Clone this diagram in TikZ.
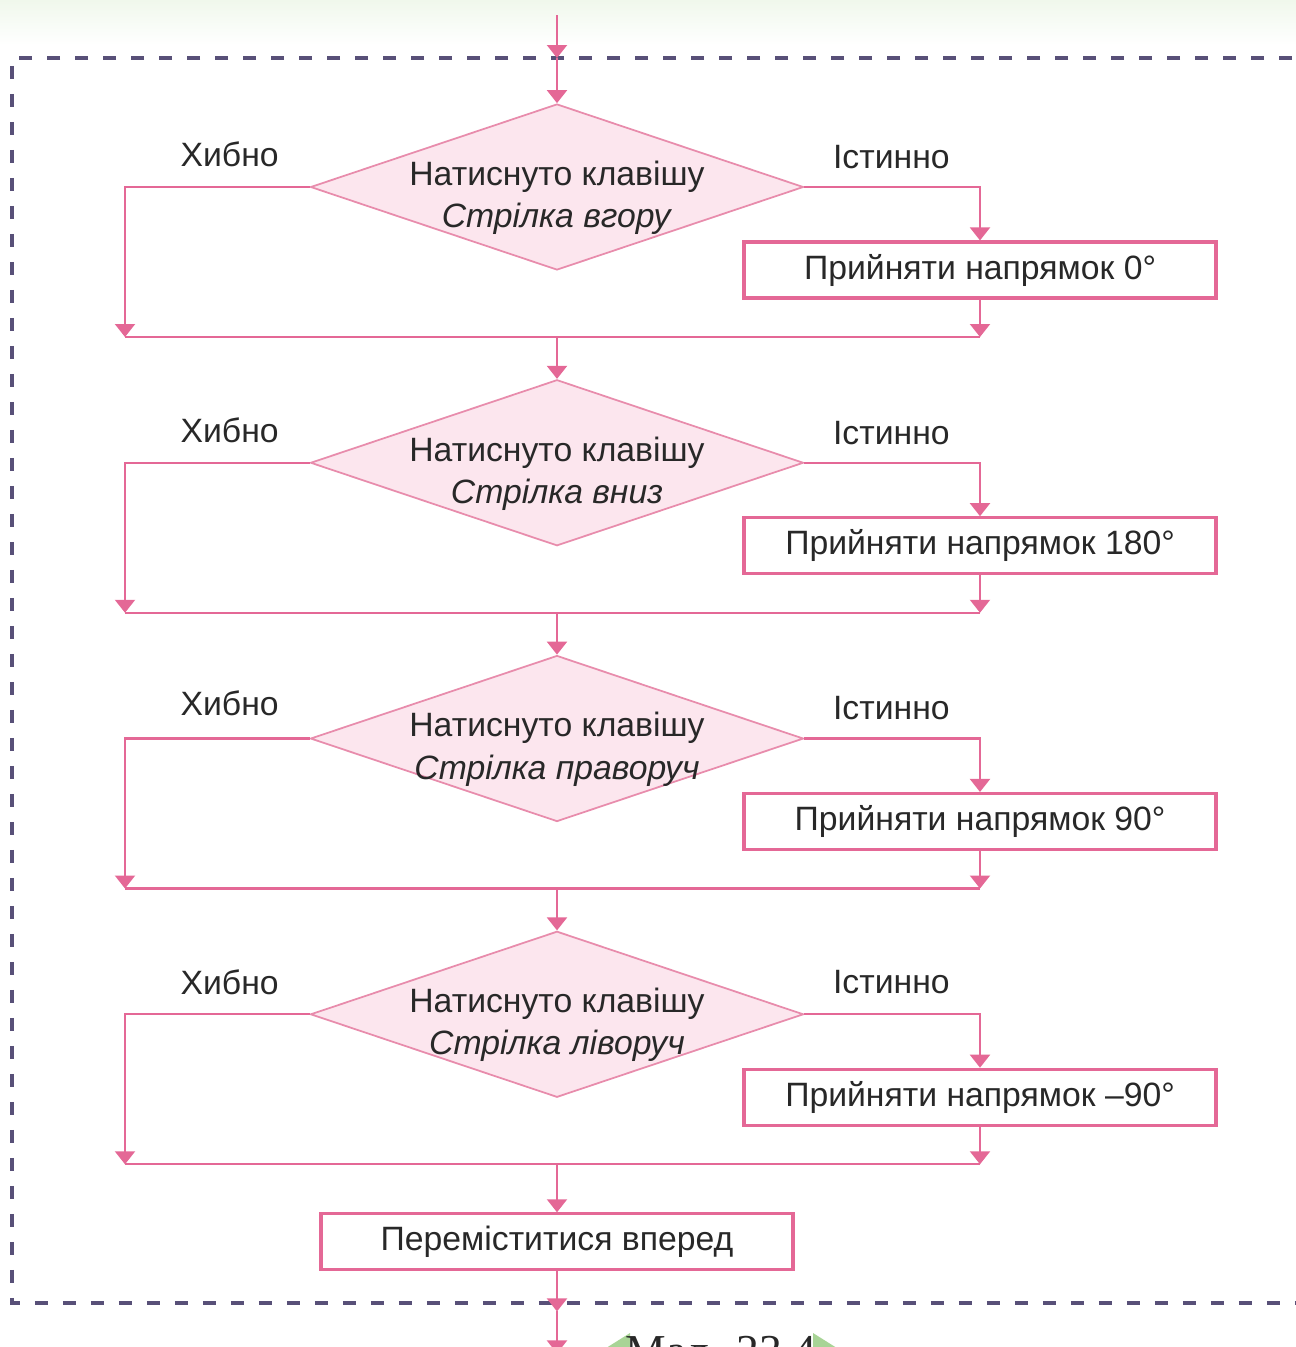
\documentclass[tikz,border=0pt]{standalone}
\usepackage{fontspec}
\setmainfont{Liberation Sans}
\newfontfamily\capfont{Liberation Serif}
\usepackage{xcolor}
\usepackage{tikz}
\usetikzlibrary{shapes.geometric, arrows.meta, positioning, calc}
\definecolor{flowpink}{RGB}{228,104,150}
\definecolor{diafill}{RGB}{252,230,238}
\definecolor{diaedge}{RGB}{232,140,172}
\definecolor{framegray}{RGB}{88,80,120}
\definecolor{textgray}{RGB}{40,40,40}
\definecolor{capgreen}{RGB}{168,212,150}
\definecolor{bandgreen}{RGB}{240,248,236}
\newcommand\flowfont{\fontsize{9.6}{12}\selectfont}
\newcommand\keystrut{\rule{0pt}{0.46cm}}

\begin{document}
\begin{tikzpicture}[
    node distance=1.08cm,
    cond/.style={diamond, draw=diaedge, line width=0.5pt, fill=diafill, shape aspect=2.97, minimum width=4.93cm, minimum height=1.66cm, inner sep=-4pt, align=center, font=\flowfont, text=textgray},
    act/.style={rectangle, draw=flowpink, line width=0.9pt, fill=white, minimum width=4.72cm, minimum height=0.56cm, inner sep=0pt, font=\flowfont, text=textgray},
    arrow/.style={-{Triangle[width=0.2cm, length=0.13cm]}, flowpink, line width=0.6pt},
    link/.style={flowpink, line width=0.6pt},
    branch/.style={font=\flowfont, text=textgray},
    frame/.style={framegray, line width=1.1pt, dash pattern=on 0.13cm off 0.15cm}
]
\useasboundingbox (0,0) rectangle (12.96,-13.47);

% Page tint and loop frame
\fill[top color=bandgreen, bottom color=white] (0,0) rectangle (12.96,-0.45);
\draw[frame] (13.2,-0.58) -- (0.12,-0.58) -- (0.12,-13.03) -- (13.2,-13.03);

% Conditions
\node[cond] (keyup) at (5.57,-1.87) {\keystrut Натиснуто клавішу\\\textit{Стрілка вгору}};
\node[cond, below=of keyup] (keydown) {\keystrut Натиснуто клавішу\\\textit{Стрілка вниз}};
\node[cond, below=of keydown] (keyright) {\keystrut Натиснуто клавішу\\\textit{Стрілка праворуч}};
\node[cond, below=of keyright] (keyleft) {\keystrut Натиснуто клавішу\\\textit{Стрілка ліворуч}};

% Actions
\node[act] (dir0) at ($(keyup)+(4.23,-0.83)$) {Прийняти напрямок 0°};
\node[act] (dir180) at ($(keydown)+(4.23,-0.83)$) {Прийняти напрямок 180°};
\node[act] (dir90) at ($(keyright)+(4.23,-0.83)$) {Прийняти напрямок 90°};
\node[act] (dirm90) at ($(keyleft)+(4.23,-0.83)$) {Прийняти напрямок –90°};

% Merge points
\coordinate (lx) at (1.25,0);
\coordinate (m1) at ($(keyup)+(0,-1.50)$);
\coordinate (m2) at ($(keydown)+(0,-1.50)$);
\coordinate (m3) at ($(keyright)+(0,-1.50)$);
\coordinate (m4) at ($(keyleft)+(0,-1.50)$);

\node[act, below=0.48cm of m4] (move) {Переміститися вперед};

% Entry and exit
\coordinate (entry) at (5.57,-0.15);
\coordinate (ftop) at (5.57,-0.58);
\coordinate (fbot) at ($(move.south)+(0,-0.40)$);
\coordinate (exit) at ($(move.south)+(0,-0.82)$);
\draw[arrow] (entry) -- (ftop);
\draw[arrow] (ftop) -- (keyup.north);

% Branch labels
\node[branch] (no1) at ($(keyup.west)+(-0.80,0.33)$) {Хибно};
\node[branch] (yes1) at ($(keyup.east)+(0.87,0.30)$) {Істинно};
\node[branch] (no2) at ($(keydown.west)+(-0.80,0.32)$) {Хибно};
\node[branch] (yes2) at ($(keydown.east)+(0.87,0.30)$) {Істинно};
\node[branch] (no3) at ($(keyright.west)+(-0.80,0.35)$) {Хибно};
\node[branch] (yes3) at ($(keyright.east)+(0.87,0.30)$) {Істинно};
\node[branch] (no4) at ($(keyleft.west)+(-0.80,0.32)$) {Хибно};
\node[branch] (yes4) at ($(keyleft.east)+(0.87,0.32)$) {Істинно};

% Up
\draw[arrow] (keyup.west) -| (lx |- m1);
\draw[arrow] (keyup.east) -| (dir0.north);
\draw[arrow] (dir0.south) -- (dir0.south |- m1);
\draw[link] (lx |- m1) -- (dir0.south |- m1);
\draw[arrow] (m1) -- (keydown.north);

% Down
\draw[arrow] (keydown.west) -| (lx |- m2);
\draw[arrow] (keydown.east) -| (dir180.north);
\draw[arrow] (dir180.south) -- (dir180.south |- m2);
\draw[link] (lx |- m2) -- (dir180.south |- m2);
\draw[arrow] (m2) -- (keyright.north);

% Right
\draw[arrow] (keyright.west) -| (lx |- m3);
\draw[arrow] (keyright.east) -| (dir90.north);
\draw[arrow] (dir90.south) -- (dir90.south |- m3);
\draw[link] (lx |- m3) -- (dir90.south |- m3);
\draw[arrow] (m3) -- (keyleft.north);

% Left
\draw[arrow] (keyleft.west) -| (lx |- m4);
\draw[arrow] (keyleft.east) -| (dirm90.north);
\draw[arrow] (dirm90.south) -- (dirm90.south |- m4);
\draw[link] (lx |- m4) -- (dirm90.south |- m4);
\draw[arrow] (m4) -- (move.north);

\draw[arrow] (move.south) -- (fbot);
\draw[arrow] (fbot) -- (exit);

% Caption
\fill[capgreen] (6.30,-13.33) -- (6.30,-13.77) -- (5.95,-13.55) -- cycle;
\fill[capgreen] (8.13,-13.33) -- (8.13,-13.77) -- (8.48,-13.55) -- cycle;
\node[font=\capfont\fontsize{13}{15}\selectfont, text=textgray] (caption) at (7.21,-13.52) {Мал. 23.4};

\end{tikzpicture}
\end{document}
